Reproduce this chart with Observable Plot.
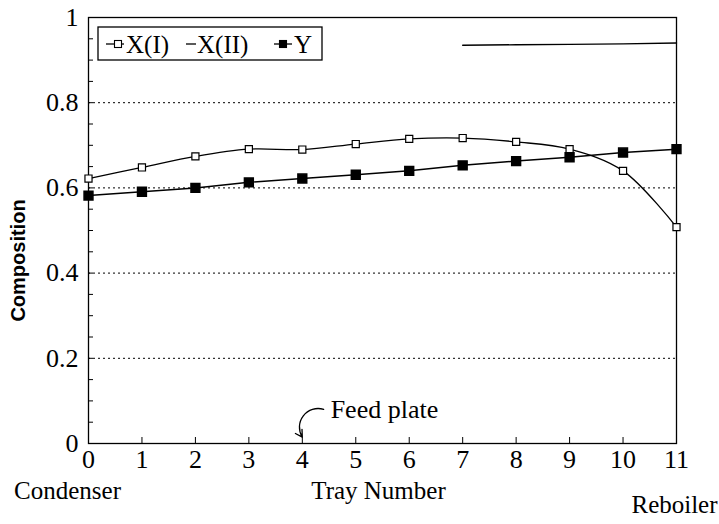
<!DOCTYPE html>
<html><head><meta charset="utf-8">
<script src="https://cdn.jsdelivr.net/npm/d3@7"></script>
<script src="https://cdn.jsdelivr.net/npm/@observablehq/plot@0.6"></script>
<style>
body{margin:0;background:#fff;}
#chart{position:relative;width:719px;height:524px;}
</style>
</head><body><div id="chart"></div>
<script>
// ---- data ----
const trays = [0,1,2,3,4,5,6,7,8,9,10,11];
const xI   = [0.622,0.648,0.674,0.691,0.690,0.703,0.715,0.717,0.708,0.691,0.640,0.508];
const yV   = [0.582,0.591,0.600,0.613,0.622,0.631,0.640,0.653,0.663,0.672,0.683,0.691];
const xIITrays = [7,8,9,10,11];
const xII  = [0.935,0.936,0.937,0.938,0.940];
const yTickValues = [0,0.2,0.4,0.6,0.8,1];
const gridValues = [0.2,0.4,0.6,0.8];
const seriesNames = ["X(I)","X(II)","Y"];
const feedTray = 4;
const feedLabel = "Feed plate";
const xLabels = ["Condenser","Tray Number","Reboiler"];
const yLabel = "Composition";

const serif = "Liberation Serif, Times New Roman, serif";
const rowsI = trays.map((t,i)=>({tray:t, v:xI[i]}));
const rowsY = trays.map((t,i)=>({tray:t, v:yV[i]}));
const rowsII = xIITrays.map((t,i)=>({tray:t, v:xII[i]}));
const minorY = d3.range(0, 1.0001, 0.05);

const chart = Plot.plot({
  width: 719, height: 524,
  marginLeft: 88, marginRight: 43, marginTop: 17, marginBottom: 81,
  style: {fontFamily: serif, background: "#fff", color: "#000", overflow: "visible"},
  x: {domain: [0, 11], label: null},
  y: {domain: [0, 1], label: null},
  marks: [
    Plot.ruleY(gridValues, {stroke: "#000", strokeWidth: 1, strokeDasharray: "2,3"}),
    Plot.frame({stroke: "#000", strokeWidth: 1.3}),
    // inward minor ticks on y
    Plot.axisY({ticks: minorY, tickSize: 5, dx: 5, text: null, stroke: "#000", label: null}),
    Plot.axisY({ticks: yTickValues, tickSize: 0, tickPadding: 10, fontSize: 26,
      tickFormat: d => String(d), label: null}),
    // inward ticks on x
    Plot.axisX({ticks: trays, tickSize: 6, dy: -6, text: null, stroke: "#000", label: null}),
    Plot.axisX({ticks: trays, tickSize: 0, tickPadding: 6, fontSize: 26,
      tickFormat: d => String(d), label: null}),
    // series
    Plot.line(rowsII, {x: "tray", y: "v", stroke: "#000", strokeWidth: 1.4}),
    Plot.line(rowsI, {x: "tray", y: "v", stroke: "#000", strokeWidth: 1.3, curve: "catmull-rom"}),
    Plot.line(rowsY, {x: "tray", y: "v", stroke: "#000", strokeWidth: 1.5}),
    Plot.dot(rowsI, {x: "tray", y: "v", symbol: "square", r: 4, fill: "#fff", stroke: "#000", strokeWidth: 1.2}),
    Plot.dot(rowsY, {x: "tray", y: "v", symbol: "square", r: 5, fill: "#000", stroke: "#000"}),
    // feed plate annotation
    Plot.arrow([feedTray], {x1: d => d + 0.4, y1: 0.08, x2: d => d, y2: 0.015,
      bend: -70, headLength: 9, stroke: "#000", strokeWidth: 1.3}),
    Plot.text([feedLabel], {x: feedTray + 0.53, y: 0.08, text: d => d, textAnchor: "start",
      fontSize: 26, fontFamily: serif}),
    // axis titles
    Plot.text([xLabels[0]], {frameAnchor: "bottom-left", dx: -21, dy: 55, text: d => d, textAnchor: "middle", fontSize: 25}),
    Plot.text([xLabels[1]], {frameAnchor: "bottom", dx: -4, dy: 55, text: d => d, textAnchor: "middle", fontSize: 25}),
    Plot.text([xLabels[2]], {frameAnchor: "bottom-right", dx: -2, dy: 69, text: d => d, textAnchor: "middle", fontSize: 25}),
    Plot.text([yLabel], {frameAnchor: "left", dx: -70, dy: 30, rotate: -90, text: d => d, textAnchor: "middle",
      fontSize: 20, fontFamily: "Liberation Sans, Arial, sans-serif", fontWeight: "bold"})
  ]
});
document.getElementById("chart").appendChild(chart);

// legend box inside the plot (top-left)
const svg = d3.select(chart);
const lg = svg.append("g").attr("font-family", serif).attr("font-size", 25).attr("text-anchor", "start");
lg.append("rect").attr("x", 98).attr("y", 27).attr("width", 224).attr("height", 33)
  .attr("fill", "#fff").attr("stroke", "#000").attr("stroke-width", 1.3);
const items = [
  {x: 106, tx: 126, name: seriesNames[0], marker: "open"},
  {x: 186, tx: 197, name: seriesNames[1], marker: null},
  {x: 274, tx: 294, name: seriesNames[2], marker: "filled"}
];
items.forEach(it => {
  const len = it.marker ? 18 : 10;
  lg.append("line").attr("x1", it.x).attr("x2", it.x + len).attr("y1", 44).attr("y2", 44)
    .attr("stroke", "#000").attr("stroke-width", 1.3);
  if (it.marker) {
    const cx = it.x + len / 2 + (it.marker === "open" ? 3 : 0);
    lg.append("rect").attr("x", cx - 3.5).attr("y", 40.5).attr("width", 7).attr("height", 7)
      .attr("fill", it.marker === "open" ? "#fff" : "#000").attr("stroke", "#000").attr("stroke-width", 1.1);
  }
  lg.append("text").attr("x", it.tx).attr("y", 44).attr("dy", "0.35em").text(it.name);
});
</script>
</body></html>
